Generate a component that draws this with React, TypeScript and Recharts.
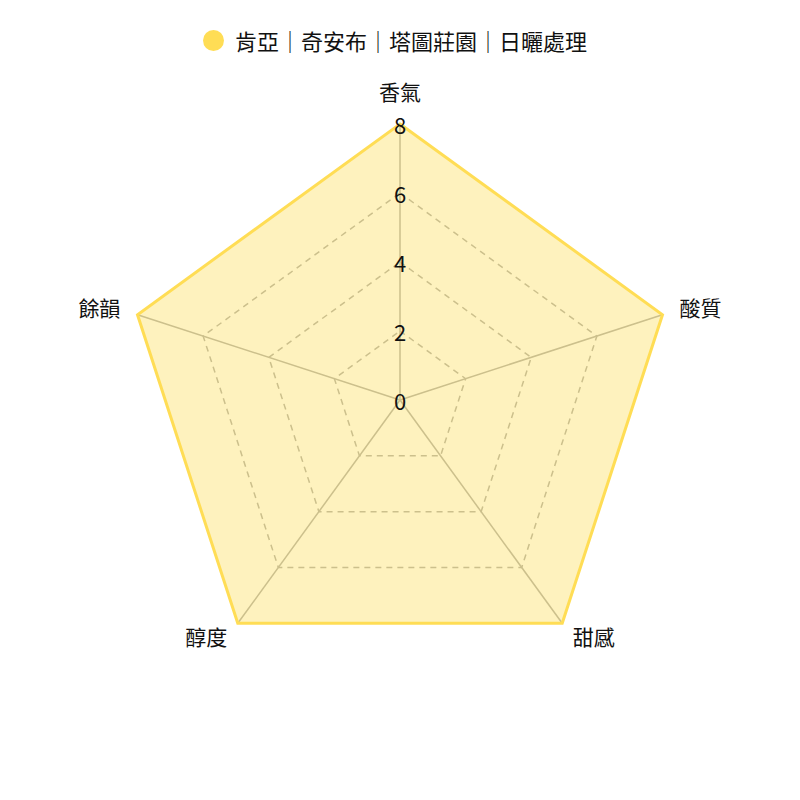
import { RadarChart, Radar, PolarGrid, PolarAngleAxis, PolarRadiusAxis, Legend } from "recharts";

const attributes = ["香氣", "酸質", "甜感", "醇度", "餘韻"];
const scores = [8, 8, 8, 8, 8];
const radiusTicks = [0, 2, 4, 6, 8];
const seriesName = "肯亞｜奇安布｜塔圖莊園｜日曬處理";

const data = attributes.map((attr, i) => ({ attr, score: scores[i] }));

const FONT = '"Noto Sans CJK TC", "Noto Sans", sans-serif';
const YELLOW = "#FDD835";
const OUTER = 276;

function RadiusTick(props: any) {
  const { x, y, payload } = props;
  return (
    <text x={x} y={y} textAnchor="middle" dominantBaseline="central" fontSize={22} fill="#111" fontFamily={FONT}>
      {payload.value}
    </text>
  );
}

// label sits 18px outside the outer ring, anchored by side
function AngleTick(props: any) {
  const { x, y, payload } = props;
  const cx = props.cx ?? 400;
  const cy = props.cy ?? 400;
  const dx = x - cx;
  const dy = y - cy;
  const len = Math.sqrt(dx * dx + dy * dy) || 1;
  const r = OUTER + 18;
  const px = cx + (dx / len) * r;
  const py = cy + (dy / len) * r;
  const cos = dx / len;
  const sin = -dy / len;
  let anchor = "middle";
  if (cos > 0.05) anchor = "start";
  else if (cos < -0.05) anchor = "end";
  let baseline = "central";
  if (Math.abs(cos) <= 0.05) baseline = sin > 0 ? "text-after-edge" : "hanging";
  return (
    <text x={px} y={py - (baseline === "central" ? 2 : 0)} textAnchor={anchor} dominantBaseline={baseline} fontSize={21} fill="#111" fontFamily={FONT}>
      {payload.value}
    </text>
  );
}

function LegendContent() {
  return (
    <div style={{ display: "flex", justifyContent: "center", alignItems: "center", fontFamily: FONT, fontSize: 22, color: "#111", paddingRight: 10 }}>
      <span style={{ width: 21, height: 21, borderRadius: 11, background: "#FFDD55", marginRight: 11, display: "inline-block" }} />
      <span>{seriesName}</span>
    </div>
  );
}

export default function App() {
  return (
    <div style={{ position: "absolute", left: 0, top: 0, width: 800, height: 800, background: "#fff" }}>
      <RadarChart width={800} height={800} data={data} cx="50%" cy="50%" outerRadius={OUTER} margin={{ top: 0, right: 0, bottom: 0, left: 0 }} style={{ fontFamily: FONT }}>
        <Legend verticalAlign="top" content={<LegendContent />} wrapperStyle={{ top: 24, left: 0, width: 800 }} />
        <PolarGrid gridType="polygon" radialLines={false} stroke="#b5b5b5" strokeWidth={1.5} strokeDasharray="6 5" />
        <PolarGrid gridType="polygon" polarRadius={[]} stroke="#b5b5b5" strokeWidth={1.5} />
        <PolarAngleAxis dataKey="attr" tick={<AngleTick />} tickLine={false} axisLine={false} />
        <PolarRadiusAxis angle={90} domain={[0, 8]} ticks={radiusTicks as any} tickCount={5} tick={<RadiusTick />} axisLine={false} tickLine={false} />
        <Radar name={seriesName} dataKey="score" stroke="#FFDD55" strokeWidth={3} fill={YELLOW} fillOpacity={0.32} isAnimationActive={false} />
      </RadarChart>
    </div>
  );
}
